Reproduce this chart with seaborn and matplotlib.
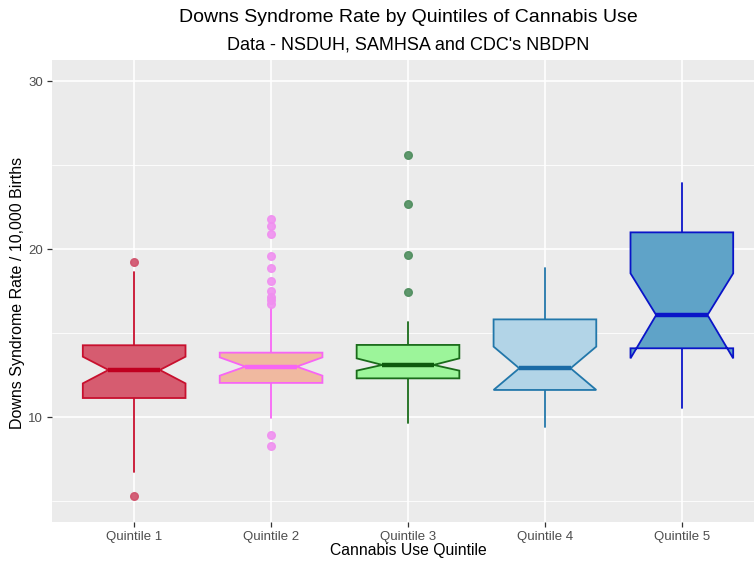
import matplotlib
matplotlib.use("Agg")
import matplotlib.pyplot as plt
import matplotlib.ticker as mticker
import seaborn as sns

# -----------------------------------------------------------------------------
# Data (box statistics)
# -----------------------------------------------------------------------------

quintiles = ["Quintile 1", "Quintile 2", "Quintile 3", "Quintile 4", "Quintile 5"]

medians = [12.80, 13.00, 13.10, 12.90, 16.07]
lower_hinge = [11.13, 12.03, 12.30, 11.61, 14.09]
upper_hinge = [14.27, 13.83, 14.29, 15.81, 20.99]
whisker_low = [6.75, 9.92, 9.62, 9.42, 10.52]
whisker_high = [18.65, 16.47, 15.67, 18.89, 23.91]
notch_low = [12.00, 12.46, 12.76, 11.61, 13.49]
notch_high = [13.59, 13.55, 13.49, 14.19, 18.55]
outliers = [
    [19.20, 5.30],
    [21.79, 21.39, 20.87, 19.58, 18.89, 18.11, 17.52, 17.12, 16.96, 16.70, 8.93, 8.27],
    [25.58, 22.68, 19.64, 17.46],
    [],
    [],
]

# -----------------------------------------------------------------------------
# Plotting attributes
# -----------------------------------------------------------------------------

sns.set_theme(style="darkgrid", rc={"axes.facecolor": "#EBEBEB",
                                    "grid.color": "white"})
plt.rcParams["font.family"] = ["Liberation Sans", "DejaVu Sans"]

fill_colors = ["#d65c70", "#f0b9a0", "#9cf59a", "#b2d4e7", "#5fa3c8"]
edge_colors = ["#c8102e", "#f765f5", "#1a6b1a", "#2277aa", "#0a14c8"]
median_colors = ["#c00020", "#f765f5", "#0d5a0d", "#1a6aa5", "#0a14c8"]
flier_colors = ["#d0506a", "#f08ff0", "#4d8c5c", "#2277aa", "#0a14c8"]

# -----------------------------------------------------------------------------
# Plot
# -----------------------------------------------------------------------------

fig = plt.figure(figsize=(7.54, 5.65), dpi=100)
ax = fig.add_axes([52 / 754, 1 - 522 / 565, 712 / 754, 462 / 565])

stats = []
for i in range(len(quintiles)):
    stats.append({
        "label": quintiles[i],
        "med": medians[i],
        "q1": lower_hinge[i],
        "q3": upper_hinge[i],
        "whislo": whisker_low[i],
        "whishi": whisker_high[i],
        "cilo": notch_low[i],
        "cihi": notch_high[i],
        "fliers": outliers[i],
    })

bp = ax.bxp(stats, positions=range(len(quintiles)), widths=0.75, shownotches=True,
            patch_artist=True, showcaps=False, manage_ticks=False)

for i in range(len(quintiles)):
    box = bp["boxes"][i]
    box.set_facecolor(fill_colors[i])
    box.set_edgecolor(edge_colors[i])
    box.set_linewidth(1.3)
    box.set_zorder(3)
    bp["medians"][i].set(color=median_colors[i], linewidth=3.2, zorder=4,
                         solid_capstyle="butt")
    for w in bp["whiskers"][2 * i:2 * i + 2]:
        w.set(color=edge_colors[i], linewidth=1.3, zorder=2)
    bp["fliers"][i].set(marker="o", markersize=5.5, markerfacecolor=flier_colors[i],
                        markeredgecolor=flier_colors[i], alpha=0.9, zorder=2)

ax.set_xlim(-0.6, 4.6)
ax.set_ylim(3.75, 31.25)
ax.set_xticks(range(len(quintiles)))
ax.set_xticklabels(quintiles)
ax.yaxis.set_major_locator(mticker.FixedLocator([10, 20, 30]))
ax.yaxis.set_minor_locator(mticker.FixedLocator([5, 15, 25]))
ax.grid(which="major", color="white", linewidth=1.2)
ax.grid(which="minor", axis="y", color="white", linewidth=0.6)
ax.set_axisbelow(True)
for s in ax.spines.values():
    s.set_visible(False)
ax.tick_params(axis="both", which="major", length=3.5, width=0.9, color="#333333",
               labelcolor="#4d4d4d", labelsize=9.5, pad=3, direction="out",
               bottom=True, left=True)
ax.tick_params(axis="y", which="minor", length=0)

ax.set_xlabel("")
ax.set_ylabel("")
fig.text(408 / 754, 1 - 551 / 565, "Cannabis Use Quintile", ha="center", va="center",
         fontsize=11.3, color="black")
fig.text(18 / 754, 1 - 293 / 565, "Downs Syndrome Rate / 10,000 Births", ha="center",
         va="center", rotation=90, fontsize=11.5, color="black")
fig.text(408 / 754, 1 - 18 / 565, "Downs Syndrome Rate by Quintiles of Cannabis Use",
         ha="center", va="center", fontsize=14, color="black")
fig.text(408 / 754, 1 - 45 / 565, "Data - NSDUH, SAMHSA and CDC's NBDPN",
         ha="center", va="center", fontsize=13, color="black")

plt.savefig("out.png", dpi=100)
